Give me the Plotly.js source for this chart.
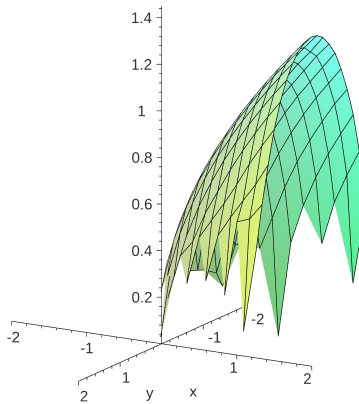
<!DOCTYPE html>
<html><head><meta charset="utf-8"><script src="https://cdn.plot.ly/plotly-3.0.1.min.js"></script>
<style>html,body{margin:0;padding:0;background:#fff}#c{width:359px;height:404px}</style></head>
<body><div id="c"></div><script>
const _=null;
const gridX=[0,.167,.333,.5,.667,.833,1,1.167,1.333,1.5,1.667,1.833,2];
const gridY=[-1.293,-1.146,-1,-.854,-.707,-.561,-.415,-.268,-.122,.024,.171,.317,.463,.61,.756,.902,1.049,1.195,1.341];
const heights=[
[_,_,_,_,_,_,_,_,_,_,_,.244,.573],
[_,_,_,_,_,_,_,_,_,.41,.596,.72,.83],
[_,_,_,_,_,_,0,.41,.577,.707,.816,.91,1.0],
[_,_,_,_,_,.38,.52,.66,.778,.877,.967,1.05,1.12],
[_,_,_,_,.41,.58,.707,.816,.913,1.0,1.08,1.15,1.22],
[_,_,_,.226,.41,.72,.83,.923,1.01,1.09,1.16,1.23,1.30],
[_,_,.30,.295,.5,.78,.91,.997,1.08,1.15,1.22,1.29,1.35],
[_,.30,.31,.65,.77,.87,.96,1.05,1.13,1.19,1.26,1.32,1.39],
[_,.39,.56,.70,.81,.905,.99,1.07,1.15,1.22,1.285,1.35,1.41],
[.03,.41,.577,.707,.816,.912,1,1.08,1.154,1.225,1.29,1.354,1.414],
[_,.371,.551,.686,.799,.897,.985,1.067,1.142,1.213,1.28,1.343,1.404],
[_,.259,.483,.632,.753,.856,.949,1.033,1.11,1.183,1.252,1.316,1.378],
[_,_,.345,.535,.673,.787,.887,.976,1.058,1.134,1.205,1.272,1.336],
[_,_,_,.358,.543,.679,.792,.892,.98,1.062,1.138,1.209,1.276],
[_,_,_,.281,.47,.54,.67,.771,.872,.963,1.046,1.123,1.195],
[_,_,_,_,_,.37,.578,.66,.74,.828,.924,1.009,1.089],
[_,_,_,_,_,_,_,.41,.614,.70,.78,.856,.949],
[_,_,_,_,_,_,_,_,_,.377,.70,.72,.79],
[_,_,_,_,_,_,_,_,_,_,_,.249,.6]];
const axisTicks=[-2,-1,1,2];
const xLabelPos=[-1.98,-1,.96,1.94];
const xLabelZ=[-.066,-.066,-.055,-.055];
const yLabelShift=[.07,.08,.15,.17];
const yLabelZ=[-.06,-.06,-.045,-.045];
const zLabels=[.2,.4,.6,.8,1,1.2,1.4];
const zLabelText=['0.2','0.4','0.6','0.8','1','1.2','1.4'];

function lerp(a,b,t){return a+(b-a)*t}
function bil(c00,c10,c01,c11,u,v){u=Math.max(0,Math.min(1,u));v=Math.max(0,Math.min(1,v));
 return 'rgb('+[0,1,2].map(k=>Math.round(lerp(lerp(c00[k],c10[k],u),lerp(c01[k],c11[k],u),v))).join(',')+')'}
function shade(x,y,z){
 return y<0?bil([150,170,105],[75,240,125],[170,195,170],[125,255,245],x/2,z/1.41)
           :bil([205,205,160],[170,240,215],[195,190,125],[225,245,110],x/2,Math.pow(y/1.3,1.5));
}
function mesh(xs,ys,zs){
 const X=[],Y=[],Z=[],C=[],I=[],J=[],K=[],id={};
 const v=(r,c)=>{const key=r+'_'+c;if(id[key]===undefined){id[key]=X.length;X.push(xs[c]);Y.push(ys[r]);Z.push(zs[r][c]);C.push(shade(xs[c],ys[r],zs[r][c]))}return id[key]};
 for(let r=0;r<ys.length-1;r++)for(let c=0;c<xs.length-1;c++){
  const q=[[r,c],[r,c+1],[r+1,c+1],[r+1,c]].filter(p=>zs[p[0]][p[1]]!==null);
  if(q.length>=3){I.push(v(...q[0]));J.push(v(...q[1]));K.push(v(...q[2]));
   if(q.length===4){I.push(v(...q[0]));J.push(v(...q[2]));K.push(v(...q[3]))}}
 }
 return {type:'mesh3d',x:X,y:Y,z:Z,i:I,j:J,k:K,vertexcolor:C,flatshading:false,hoverinfo:'skip',showscale:false,
  lighting:{ambient:1,diffuse:0,specular:0,roughness:1,fresnel:0}};
}
function wires(xs,ys,zs){
 const X=[],Y=[],Z=[],d=.02;
 const push=(x,y,z)=>{X.push(z===null?null:x+d*.5);Y.push(z===null?null:y+.902*d);Z.push(z===null?null:z+.097*d)};
 for(let r=0;r<ys.length;r++){for(let c=0;c<xs.length;c++)push(xs[c],ys[r],zs[r][c]);push(0,0,null)}
 for(let c=0;c<xs.length;c++){for(let r=0;r<ys.length;r++)push(xs[c],ys[r],zs[r][c]);push(0,0,null)}
 return {type:'scatter3d',mode:'lines',x:X,y:Y,z:Z,line:{color:'#111',width:1.4},hoverinfo:'skip',connectgaps:false};
}
const ax={x:[],y:[],z:[]};
function seg(a,b){ax.x.push(a[0],b[0],null);ax.y.push(a[1],b[1],null);ax.z.push(a[2],b[2],null)}
seg([-2,0,0],[2,0,0]);seg([0,-2,0],[0,2,0]);seg([0,0,0],[0,0,1.45]);
for(let n=-10;n<=10;n++){const t=n/5,h=n%5===0?.018:.011;
 if(n){seg([t,0,0],[t,0,-h]);seg([0,t,0],[0,t,-h])}}
for(let n=1;n<=36;n++){const t=n*.04,L=n%5===0?.1:.055;seg([0,0,t],[-L/2,.3*L,t])}
const axes={type:'scatter3d',mode:'lines',x:ax.x,y:ax.y,z:ax.z,line:{color:'#222',width:1.4},hoverinfo:'skip',connectgaps:false};
const font={family:'Liberation Sans, Arial, sans-serif',size:15,color:'#333'};
const txt=(x,y,z,t)=>({type:'scatter3d',mode:'text',x,y,z,text:t,textposition:'middle center',textfont:font,hoverinfo:'skip'});
const tX=txt(xLabelPos,axisTicks.map(v=>0),xLabelZ,axisTicks.map(String));
const tY=txt(yLabelShift,axisTicks.map(v=>-v),yLabelZ,axisTicks.map(v=>String(-v)));
const tZ=txt(zLabels.map(v=>-.2),zLabels.map(v=>.12),zLabels,zLabelText);
const tN=txt([-.01,.36],[.273,-.105],[-.2,-.2],['y','x']);
const e=[.483,-.837,.26],r=1.6;
const hid={visible:false};
Plotly.newPlot('c',[mesh(gridX,gridY,heights),wires(gridX,gridY,heights),axes,tX,tY,tZ,tN],{
 width:359,height:404,margin:{l:0,r:0,t:0,b:0},paper_bgcolor:'#fff',showlegend:false,
 scene:{domain:{x:[0,1],y:[0,1]},
  xaxis:{...hid,range:[-2.063,2.537]},yaxis:{...hid,range:[2.2,-2.2]},zaxis:{...hid,range:[-.23,1.47]},
  aspectmode:'manual',aspectratio:{x:1.972,y:1.811,z:2.03},
  camera:{eye:{x:e[0]*r,y:e[1]*r,z:e[2]*r},up:{x:0,y:0,z:1},center:{x:0,y:0,z:0},projection:{type:'orthographic'}}}
},{displayModeBar:false});
</script></body></html>
